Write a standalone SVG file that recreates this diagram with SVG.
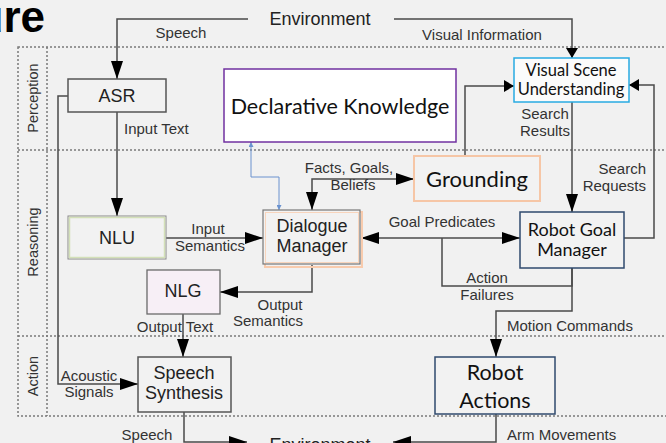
<svg xmlns="http://www.w3.org/2000/svg" width="666" height="443" viewBox="0 0 666 443">
<style>
.lbl{font-family:"Liberation Sans",Arial,sans-serif;font-size:15px;fill:#333}
.mid{text-anchor:middle}
.nd{font-family:"Liberation Sans",Arial,sans-serif;font-size:18px;fill:#222;text-anchor:middle}
.cal{font-family:Lato,"Liberation Sans",sans-serif;fill:#111;text-anchor:middle}
.c{fill:none;stroke:#4a4a4a;stroke-width:1.5}
.blue{fill:none;stroke:#6a92cf;stroke-width:1}
.sec{fill:none;stroke:#7a7a7a;stroke-width:1.5;stroke-dasharray:2 2}
.box{fill:#f2f2f2;stroke:#555;stroke-width:1.5}
.navy{fill:#f2f2f2;stroke:#2f4a6e;stroke-width:1.5}
.sl{font-family:"Liberation Sans",Arial,sans-serif;font-size:14.5px;fill:#333;text-anchor:middle}
</style>
<defs>
<marker id="big" markerUnits="userSpaceOnUse" markerWidth="18" markerHeight="12" refX="18" refY="6" orient="auto-start-reverse"><path d="M0,0 L18,6 L0,12 z" fill="#000"/></marker>
<marker id="sm" markerUnits="userSpaceOnUse" markerWidth="10" markerHeight="12" refX="10" refY="6" orient="auto-start-reverse"><path d="M0,0 L10,6 L0,12 z" fill="#000"/></marker>
<marker id="bl" markerUnits="userSpaceOnUse" markerWidth="5" markerHeight="5" refX="5" refY="2.5" orient="auto-start-reverse"><path d="M0,0 L5,2.5 L0,5 z" fill="#6a92cf"/></marker>
</defs>
<rect x="0" y="0" width="666" height="443" fill="#f1f1f1"/>
<text x="45" y="32" text-anchor="end" font-family="Liberation Sans,Arial,sans-serif" font-weight="bold" font-size="44" fill="#000">ure</text>
<g id="sections">
<rect x="18" y="47" width="670" height="369" fill="#e1e1e1" class="sec"/>
<path class="sec" d="M18,150 H666 M18,336 H666 M47,47 V416"/>
<text class="sl" transform="translate(38,98) rotate(-90)">Perception</text>
<text class="sl" transform="translate(38,242) rotate(-90)">Reasoning</text>
<text class="sl" transform="translate(38,376) rotate(-90)">Action</text>
</g>
<g id="connectors">
<path class="c" d="M248,19 H117 V79" marker-end="url(#big)"/>
<path class="c" d="M394,19 H572 V58" marker-end="url(#sm)"/>
<path class="c" d="M117,112 V216" marker-end="url(#big)"/>
<path class="c" d="M68,96 H58 V384 H138" marker-end="url(#big)"/>
<path class="c" d="M166,238 H263" marker-end="url(#big)"/>
<path class="c" d="M312,210 V179 H414" marker-start="url(#big)" marker-end="url(#big)"/>
<path class="blue" d="M251,142 V177 H279 V210" marker-start="url(#bl)" marker-end="url(#bl)"/>
<path class="c" d="M361,238 H520" marker-start="url(#big)" marker-end="url(#big)"/>
<path class="c" d="M572,268 V286 H442 V238"/>
<path class="c" d="M572,268 V311 H496 V357" marker-end="url(#big)"/>
<path class="c" d="M572,102 V212" marker-end="url(#big)"/>
<path class="c" d="M624,238 H654 V85 H629" marker-end="url(#sm)"/>
<path class="c" d="M465,156 V86 H514" marker-end="url(#sm)"/>
<path class="c" d="M312,265 V292 H220" marker-end="url(#big)"/>
<path class="c" d="M183,314 V357" marker-end="url(#big)"/>
<path class="c" d="M184,412 V442 H247" marker-end="url(#big)"/>
<path class="c" d="M496,414 V442 H393" marker-end="url(#big)"/>
</g>
<g id="labels">
<text class="lbl mid" x="181" y="38">Speech</text>
<text class="lbl mid" x="482" y="40">Visual Information</text>
<text class="lbl" x="124" y="134">Input Text</text>
<text class="lbl mid" x="545" y="119">Search</text>
<text class="lbl mid" x="545" y="136">Results</text>
<text class="lbl mid" x="349" y="173">Facts, Goals,</text>
<text class="lbl mid" x="353" y="190">Beliefs</text>
<text class="lbl" x="646" y="174" text-anchor="end">Search</text>
<text class="lbl" x="646" y="191" text-anchor="end">Requests</text>
<text class="lbl mid" x="208" y="234">Input</text>
<text class="lbl mid" x="210" y="251">Semantics</text>
<text class="lbl mid" x="442" y="227">Goal Predicates</text>
<text class="lbl mid" x="487" y="283">Action</text>
<text class="lbl mid" x="487" y="300">Failures</text>
<text class="lbl mid" x="280" y="310">Output</text>
<text class="lbl mid" x="268" y="326">Semantics</text>
<text class="lbl mid" x="175" y="332">Output Text</text>
<text class="lbl" x="507" y="331">Motion Commands</text>
<text class="lbl mid" x="89" y="381">Acoustic</text>
<text class="lbl mid" x="89" y="397">Signals</text>
<text class="lbl mid" x="147" y="440">Speech</text>
<text class="lbl" x="507" y="440">Arm Movements</text>
</g>
<g id="env-top"><text class="nd" x="320" y="25">Environment</text></g>
<g id="env-bottom"><text class="nd" x="320" y="451">Environment</text></g>
<g id="asr"><rect class="box" x="68" y="79" width="98" height="33"/><text class="nd" x="117" y="102">ASR</text></g>
<g id="declarative"><rect x="224" y="69" width="232" height="73" fill="#fff" stroke="#7030a0" stroke-width="1.5"/><text class="cal" x="340" y="114" font-size="21.5">Declarative Knowledge</text></g>
<g id="vsu"><rect x="514" y="58" width="115" height="44" fill="#fbfbfb" stroke="#29abe2" stroke-width="1.5"/><text class="cal" x="571" y="76" font-size="16.5">Visual Scene</text><text class="cal" x="571" y="95" font-size="16.5">Understanding</text></g>
<g id="grounding"><rect x="414" y="156" width="126" height="45" fill="#f2f2f2" stroke="#f6c6a6" stroke-width="2"/><text class="cal" x="477" y="187" font-size="22">Grounding</text></g>
<g id="rgm"><rect class="navy" x="520" y="212" width="104" height="56"/><text class="cal" x="572" y="236" font-size="18">Robot Goal</text><text class="cal" x="572" y="256" font-size="18">Manager</text></g>
<g id="dm"><rect x="265" y="212" width="97" height="55" fill="none" stroke="#f8cbad" stroke-width="2"/><rect x="263" y="210" width="97" height="54" fill="#f2f2f2" stroke="#777" stroke-width="1.2"/><rect x="265.5" y="212.5" width="93" height="50" fill="none" stroke="#f8d5bd" stroke-width="1"/><text class="nd" x="312" y="232">Dialogue</text><text class="nd" x="312" y="252">Manager</text></g>
<g id="nlu"><rect x="68" y="216" width="98" height="43" fill="#f2f2f2" stroke="#8a8a8a" stroke-width="1"/><rect x="69.5" y="217.5" width="95" height="40" fill="none" stroke="#d3e0b8" stroke-width="1.5"/><text class="nd" x="117" y="244">NLU</text></g>
<g id="nlg"><rect x="147" y="270" width="73" height="44" fill="#f7eff6" stroke="#6a6a6a" stroke-width="1.3"/><text class="nd" x="183" y="297">NLG</text></g>
<g id="ss"><rect class="box" x="138" y="357" width="93" height="55"/><text class="nd" x="184" y="379">Speech</text><text class="nd" x="184" y="399">Synthesis</text></g>
<g id="ra"><rect class="navy" x="435" y="357" width="120" height="57"/><text class="cal" x="495" y="380" font-size="21.5">Robot</text><text class="cal" x="495" y="408" font-size="21.5">Actions</text></g>
</svg>
